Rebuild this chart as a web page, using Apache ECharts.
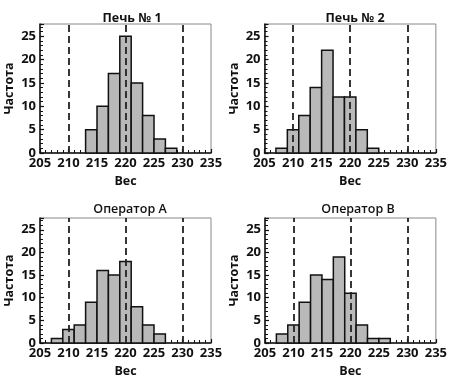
<!DOCTYPE html>
<html><head><meta charset="utf-8">
<script src="https://cdn.jsdelivr.net/npm/echarts@6/dist/echarts.min.js"></script>
<style>html,body{margin:0;padding:0;background:#fff}#c{width:450px;height:387px}</style>
</head><body><div id="c"></div>
<script>
const titles = ['Печь № 1', 'Печь № 2', 'Оператор А', 'Оператор В'];
const xTicks = [205, 210, 215, 220, 225, 230, 235];
const yTicks = [0, 5, 10, 15, 20, 25];
const specLines = [210, 220, 230];
const binWidth = 2;
const pech1Bins = [213, 215, 217, 219, 221, 223, 225, 227];
const pech1Freq = [5, 10, 17, 25, 15, 8, 3, 1];
const pech2Bins = [207, 209, 211, 213, 215, 217, 219, 221, 223];
const pech2Freq = [1, 5, 8, 14, 22, 12, 12, 5, 1];
const opABins = [207, 209, 211, 213, 215, 217, 219, 221, 223, 225];
const opAFreq = [1, 3, 4, 9, 16, 15, 18, 8, 4, 2];
const opBBins = [207, 209, 211, 213, 215, 217, 219, 221, 223, 225];
const opBFreq = [2, 4, 9, 15, 14, 19, 11, 4, 1, 1];

const panels = [[pech1Bins, pech1Freq], [pech2Bins, pech2Freq], [opABins, opAFreq], [opBBins, opBFreq]];
const FONT = '"Open Sans", "DejaVu Sans", sans-serif';
const grids = [
  {left: 40, top: 24, width: 171, height: 129},
  {left: 264.5, top: 24, width: 171.5, height: 129},
  {left: 40, top: 218, width: 171, height: 125},
  {left: 265, top: 218, width: 171.5, height: 125}
];
const titlePos = [[127, 7], [350, 7], [125, 198], [353, 198]];

const option = {
  animation: false,
  backgroundColor: '#fff',
  title: titles.map((t, i) => ({
    text: t, left: titlePos[i][0], top: titlePos[i][1], textAlign: 'center',
    textStyle: {fontFamily: FONT, fontSize: 12.5, fontWeight: i < 2 ? 'bold' : 600, color: '#111'}
  })),
  grid: grids.map(g => Object.assign({show: true, borderColor: '#888', borderWidth: 1, backgroundColor: 'transparent'}, g)),
  xAxis: grids.map((g, i) => ({
    gridIndex: i, type: 'value', min: xTicks[0], max: xTicks[xTicks.length - 1], interval: 5,
    name: 'Вес', nameLocation: 'middle', nameGap: 22,
    nameTextStyle: {fontFamily: FONT, fontSize: 12.5, fontWeight: 'bold', color: '#111'},
    axisLine: {show: true, onZero: false, lineStyle: {color: '#111', width: 1.5}},
    axisTick: {show: true, inside: true, length: 4, lineStyle: {color: '#111', width: 1.2}},
    minorTick: {show: true, splitNumber: 5, length: 3, lineStyle: {color: '#111', width: 1}},
    axisLabel: {fontFamily: FONT, fontSize: 13, fontWeight: 'bold', color: '#111', margin: 4},
    splitLine: {show: false}
  })),
  yAxis: grids.map((g, i) => ({
    gridIndex: i, type: 'value', min: 0, max: 27.6, interval: 5,
    name: 'Частота', nameLocation: 'middle', nameGap: 24, nameRotate: 90,
    nameTextStyle: {fontFamily: FONT, fontSize: 12.5, fontWeight: 'bold', color: '#111'},
    axisLine: {show: true, lineStyle: {color: '#111', width: 1.5}},
    axisTick: {show: true, inside: true, length: 4, lineStyle: {color: '#111', width: 1.2}},
    minorTick: {show: true, splitNumber: 5, length: 3, lineStyle: {color: '#111', width: 1}},
    axisLabel: {fontFamily: FONT, fontSize: 13, fontWeight: 'bold', color: '#111', margin: 4,
      formatter: v => yTicks.includes(v) ? String(v) : ''},
    splitLine: {show: false}
  })),
  series: panels.map(([bins, freq], i) => ({
    type: 'custom', xAxisIndex: i, yAxisIndex: i,
    data: bins.map((b, k) => [b, b + binWidth, freq[k]]),
    renderItem: (params, api) => {
      const p0 = api.coord([api.value(0), 0]);
      const p1 = api.coord([api.value(1), api.value(2)]);
      return {type: 'rect', shape: {x: p0[0], y: p1[1], width: p1[0] - p0[0], height: p0[1] - p1[1]},
        style: {fill: '#b9b9b9', stroke: '#111', lineWidth: 1.5}};
    },
    markLine: {
      silent: true, symbol: 'none', label: {show: false},
      lineStyle: {color: '#222', type: [7, 4], width: 1.8},
      data: specLines.map(v => ({xAxis: v}))
    },
    z: 2
  }))
};
echarts.init(document.getElementById('c'), null, {renderer: 'canvas'}).setOption(option);
</script></body></html>
